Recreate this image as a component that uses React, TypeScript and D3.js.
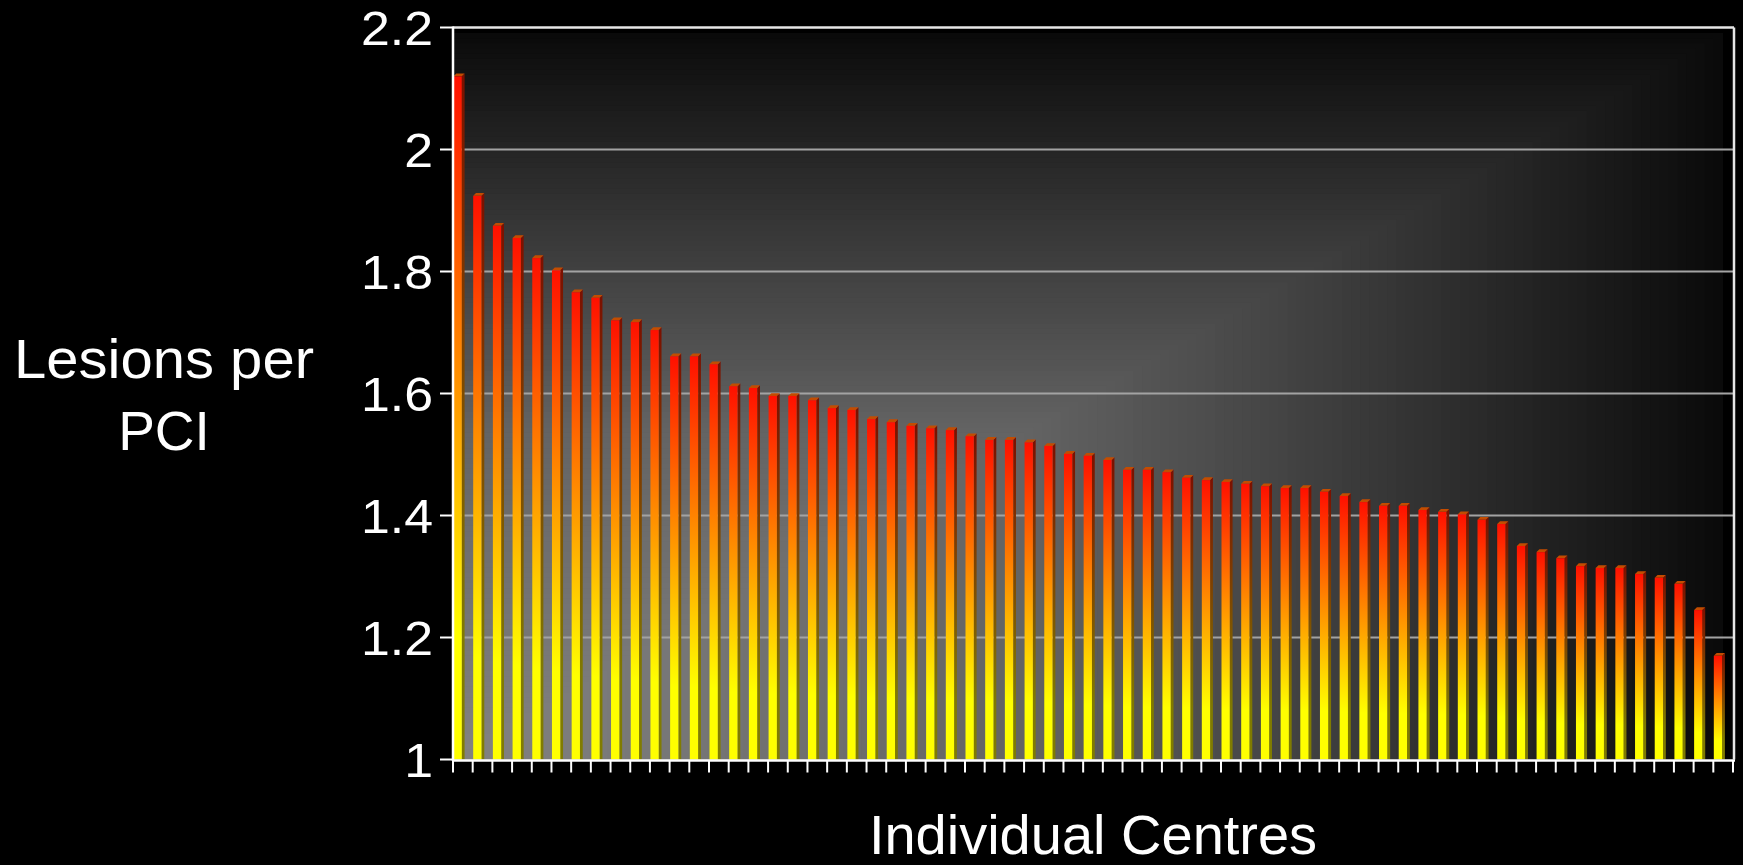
import React from "react";
import * as d3 from "d3";

const values: number[] = [
  2.12, 1.924, 1.875, 1.855, 1.822, 1.802, 1.766, 1.757, 1.72, 1.717,
  1.704, 1.661, 1.661, 1.648, 1.612, 1.609, 1.596, 1.596, 1.589, 1.576,
  1.573, 1.558, 1.553, 1.547, 1.543, 1.54, 1.53, 1.524, 1.524, 1.52,
  1.514, 1.501, 1.498, 1.491, 1.475, 1.475, 1.471, 1.462, 1.458, 1.455,
  1.452, 1.448, 1.445, 1.445, 1.439, 1.432, 1.422, 1.416, 1.416, 1.409,
  1.406, 1.402, 1.393, 1.386, 1.35, 1.34, 1.33, 1.317, 1.314, 1.314,
  1.304, 1.298, 1.288, 1.245, 1.17,
];
const categories: string[] = values.map((_, i) => `Centre ${i + 1}`);
const yTicks: number[] = [1, 1.2, 1.4, 1.6, 1.8, 2, 2.2];
const yTickLabels: string[] = ["1", "1.2", "1.4", "1.6", "1.8", "2", "2.2"];
const yTitle: string[] = ["Lesions per", "PCI"];
const xTitle = "Individual Centres";

const W = 1743;
const H = 865;
const left = 453;
const right = 1733;
const top = 27.5;
const bottom = 759.5;
const FONT = "'Liberation Sans', Arial, Helvetica, sans-serif";

export default function App() {
  const x = d3.scaleBand<string>().domain(categories).range([left, right]).padding(0);
  const y = d3.scaleLinear().domain([1, 2.2]).range([bottom, top]);
  const bw = x.bandwidth();

  // background: rectangular gradient from bottom-left corner
  const fillRight = 1723;
  const fillTop = 33;
  const FW = fillRight - left;
  const FH = bottom - fillTop;
  const g = d3.scaleLinear<number>().domain([0, 0.45, 0.68, 0.98, 1]).range([130, 100, 64, 14, 10]);
  const N = 140;
  const bands = d3.range(N, 0, -1).map((i) => i / N);

  const frontW = 8.3;
  const depth = 2.8;

  return (
    <div style={{ position: "fixed", left: 0, top: 0, width: W, height: H, background: "#000" }}>
      <svg width={W} height={H} style={{ display: "block", background: "#000" }}>
        <defs>
          <linearGradient id="front" x1="0" y1="0" x2="0" y2="1">
            <stop offset="0" stopColor="#ff1000" />
            <stop offset="0.82" stopColor="#ffff00" />
            <stop offset="1" stopColor="#ffff00" />
          </linearGradient>
          <linearGradient id="side" x1="0" y1="0" x2="0" y2="1">
            <stop offset="0" stopColor="#7c1000" />
            <stop offset="0.82" stopColor="#807a00" />
            <stop offset="1" stopColor="#807c00" />
          </linearGradient>
        </defs>

        {bands.map((t) => {
          const v = Math.round(g(t));
          return (
            <rect
              key={t}
              x={left}
              y={bottom - t * FH}
              width={t * FW}
              height={t * FH}
              fill={`rgb(${v},${v},${v})`}
            />
          );
        })}

        {yTicks.slice(1, -1).map((t) => (
          <line key={t} x1={left} x2={right + 1} y1={y(t)} y2={y(t)} stroke="#a3a3a3" strokeWidth={2} />
        ))}
        <line x1={left} x2={right + 1} y1={y(2.2)} y2={y(2.2)} stroke="#e6e6e6" strokeWidth={2.5} />
        <line x1={right + 1} x2={right + 1} y1={y(2.2)} y2={bottom} stroke="#e6e6e6" strokeWidth={2.5} />

        {values.map((v, i) => {
          const x0 = (x(categories[i]) as number) + 0.5;
          const yt = y(v);
          const yb = y(1);
          return (
            <g key={i}>
              <polygon
                points={`${x0 + frontW},${yt} ${x0 + frontW + depth},${yt - depth} ${x0 + frontW + depth},${yb} ${x0 + frontW},${yb}`}
                fill="url(#side)"
              />
              <polygon
                points={`${x0},${yt} ${x0 + depth},${yt - depth} ${x0 + frontW + depth},${yt - depth} ${x0 + frontW},${yt}`}
                fill="#c44c00"
              />
              <rect x={x0} y={yt} width={frontW} height={yb - yt} fill="url(#front)" />
            </g>
          );
        })}

        {/* axes */}
        <line x1={left} x2={left} y1={y(2.2) - 1} y2={bottom + 1.5} stroke="#ffffff" strokeWidth={2.5} />
        <line x1={left} x2={right + 2} y1={bottom + 1} y2={bottom + 1} stroke="#ffffff" strokeWidth={2.5} />
        {d3.range(categories.length + 1).map((i) => {
          const tx = left + i * bw;
          return <line key={i} x1={tx} x2={tx} y1={bottom + 1} y2={bottom + 13} stroke="#ffffff" strokeWidth={2} />;
        })}
        {yTicks.map((t, i) => (
          <g key={t}>
            <line x1={440} x2={left} y1={y(t)} y2={y(t)} stroke="#ffffff" strokeWidth={2} />
            <text
              transform={`translate(433,${y(t)}) scale(1.08,1)`}
              dy="0.36em"
              textAnchor="end"
              fill="#ffffff"
              fontFamily={FONT}
              fontSize={48}
            >
              {yTickLabels[i]}
            </text>
          </g>
        ))}

        <text x={164} y={378} textAnchor="middle" fill="#fff" fontFamily={FONT} fontSize={55} textLength={300} lengthAdjust="spacingAndGlyphs">
          {yTitle[0]}
        </text>
        <text x={164} y={450} textAnchor="middle" fill="#fff" fontFamily={FONT} fontSize={55}>
          {yTitle[1]}
        </text>
        <text x={(left + right) / 2} y={854} textAnchor="middle" fill="#fff" fontFamily={FONT} fontSize={56}>
          {xTitle}
        </text>
      </svg>
    </div>
  );
}
